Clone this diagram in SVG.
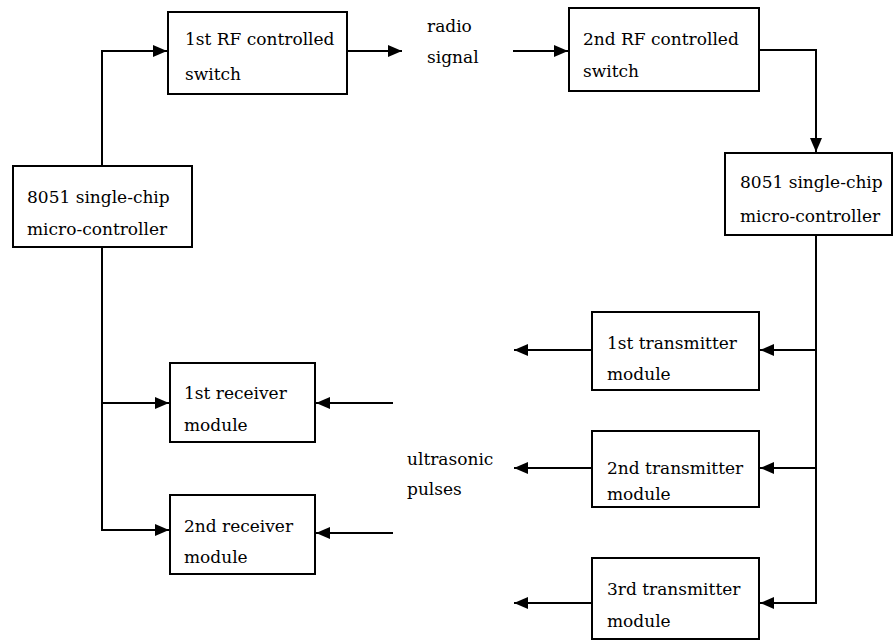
<svg xmlns="http://www.w3.org/2000/svg" width="893" height="641" viewBox="0 0 893 641">
<style>
rect{fill:#fff;stroke:#000;stroke-width:2}
text{font-family:"DejaVu Serif","Liberation Serif",serif;font-size:17px;fill:#000}
.c path{fill:none;stroke:#000;stroke-width:2}
</style>
<defs>
<marker id="a" markerWidth="14" markerHeight="12" refX="14" refY="6" orient="auto" markerUnits="userSpaceOnUse"><path d="M0,0L14,6L0,12Z" fill="#000"/></marker>
</defs>
<rect x="0" y="0" width="893" height="641" style="stroke:none"/>
<g class="c">
<path d="M102,166V51H167" marker-end="url(#a)"/>
<path d="M347,51H402" marker-end="url(#a)"/>
<path d="M513,51H568" marker-end="url(#a)"/>
<path d="M759,50H816V152" marker-end="url(#a)"/>
<path d="M102,247V530H169" marker-end="url(#a)"/>
<path d="M102,403H169" marker-end="url(#a)"/>
<path d="M393,403H316" marker-end="url(#a)"/>
<path d="M393,533H316" marker-end="url(#a)"/>
<path d="M816,235V603H760" marker-end="url(#a)"/>
<path d="M816,350H760" marker-end="url(#a)"/>
<path d="M816,468H760" marker-end="url(#a)"/>
<path d="M592,350H514" marker-end="url(#a)"/>
<path d="M592,468H514" marker-end="url(#a)"/>
<path d="M592,603H514" marker-end="url(#a)"/>
</g>
<g id="rf1"><rect x="168" y="12" width="179" height="82"/><text x="185" y="45">1st RF controlled</text><text x="185" y="80">switch</text></g>
<g id="rf2"><rect x="569" y="8" width="190" height="83"/><text x="583" y="45">2nd RF controlled</text><text x="583" y="77">switch</text></g>
<g id="mcu1"><rect x="13" y="166" width="179" height="81"/><text x="27" y="203">8051 single-chip</text><text x="27" y="235">micro-controller</text></g>
<g id="mcu2"><rect x="725" y="153" width="167" height="82"/><text x="740" y="188">8051 single-chip</text><text x="740" y="222">micro-controller</text></g>
<g id="rx1"><rect x="170" y="363" width="145" height="79"/><text x="184" y="399">1st receiver</text><text x="184" y="431">module</text></g>
<g id="rx2"><rect x="170" y="495" width="145" height="79"/><text x="184" y="532">2nd receiver</text><text x="184" y="563">module</text></g>
<g id="tx1"><rect x="592" y="312" width="167" height="78"/><text x="607" y="349">1st transmitter</text><text x="607" y="380">module</text></g>
<g id="tx2"><rect x="592" y="431" width="167" height="76"/><text x="607" y="474">2nd transmitter</text><text x="607" y="500">module</text></g>
<g id="tx3"><rect x="592" y="558" width="167" height="81"/><text x="607" y="595">3rd transmitter</text><text x="607" y="627">module</text></g>
<g id="radio"><text x="427" y="32">radio</text><text x="427" y="63">signal</text></g>
<g id="ultra"><text x="407" y="465">ultrasonic</text><text x="407" y="495">pulses</text></g>
</svg>
